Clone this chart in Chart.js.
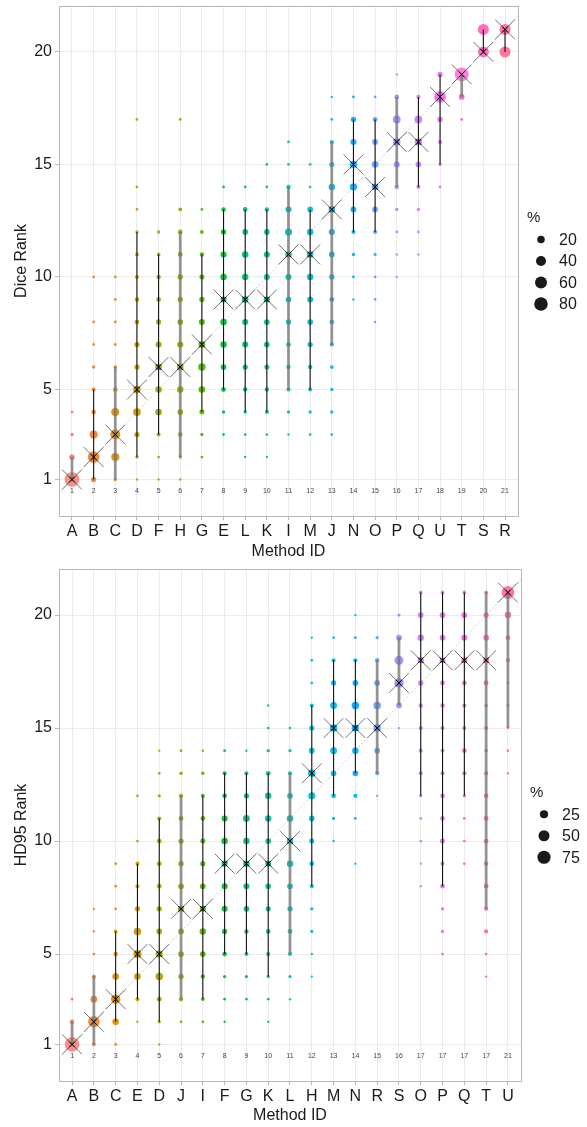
<!DOCTYPE html>
<html>
<head>
<meta charset="utf-8">
<script src="https://cdn.jsdelivr.net/npm/chart.js@4/dist/chart.umd.min.js"></script>
<style>
  html, body { margin: 0; padding: 0; background: #fff; }
  canvas { display: block; }
</style>
</head>
<body>
<canvas id="diceChart" width="587" height="563"></canvas>
<canvas id="hdChart" width="587" height="564"></canvas>
<script>
// ---- Dice panel ----
const diceMethods = ['A','B','C','D','F','H','G','E','L','K','I','M','J','N','O','P','Q','U','T','S','R'];
const diceRankLabels = [1,2,3,4,5,6,7,8,9,10,11,12,13,14,15,16,17,18,19,20,21];
const diceMedian = [1,2,3,5,6,6,7,9,9,9,11,11,13,15,14,16,16,18,19,20,21];
const diceLow  = [1,1,1,2,3,2,4,5,4,4,5,5,7,12,12,14,14,15,18,20,20];
const diceHigh = [2,5,6,12,11,12,11,13,13,13,14,13,16,17,17,18,18,19,19,21,21];
const diceGreyBar = [1,0,1,0,0,1,0,0,0,0,1,0,1,0,0,1,0,0,1,0,0];
// [rank, % of cases] per method
const diceDist = [
  [[1,95],[2,8],[3,2],[4,1]],
  [[1,8],[2,58],[3,25],[4,6],[5,4],[6,2],[7,1],[8,1],[10,1]],
  [[1,2],[2,25],[3,40],[4,24],[5,5],[6,2],[7,1],[8,1],[9,1],[10,1]],
  [[1,0.5],[2,2],[3,8],[4,22],[5,20],[6,8],[7,8],[8,6],[9,5],[10,4],[11,3],[12,2],[13,1],[14,1],[17,1]],
  [[1,0.5],[2,1],[3,4],[4,15],[5,15],[6,15],[7,12],[8,8],[9,6],[10,5],[11,3],[12,2]],
  [[1,0.5],[2,2],[3,5],[4,10],[5,14],[6,14],[7,12],[8,10],[9,8],[10,8],[11,6],[12,6],[13,3],[17,1]],
  [[2,1],[3,2],[4,7],[5,15],[6,20],[7,15],[8,12],[9,8],[10,7],[11,5],[12,3],[13,1]],
  [[3,1],[4,2],[5,6],[6,10],[7,14],[8,15],[9,12],[10,14],[11,12],[12,8],[13,5],[14,1]],
  [[2,0.5],[3,1],[4,2],[5,5],[6,8],[7,12],[8,12],[9,14],[10,14],[11,14],[12,10],[13,6],[14,1]],
  [[2,0.5],[3,1],[4,4],[5,5],[6,7],[7,10],[8,10],[9,12],[10,12],[11,12],[12,10],[13,5],[14,1],[15,1]],
  [[3,0.5],[4,2],[5,4],[6,5],[7,6],[8,8],[9,10],[10,12],[11,14],[12,18],[13,12],[14,5],[15,1],[16,1]],
  [[3,1],[4,2],[5,4],[6,5],[7,8],[8,10],[9,12],[10,14],[11,14],[12,14],[13,10],[14,1],[15,1]],
  [[3,1],[4,2],[5,2],[6,3],[7,4],[8,6],[9,6],[10,8],[11,10],[12,12],[13,14],[14,14],[15,7],[16,4],[17,1],[18,0.5]],
  [[9,0.5],[10,1],[11,2],[12,4],[13,10],[14,18],[15,18],[16,12],[17,8],[18,1]],
  [[8,0.5],[9,1],[10,1],[11,2],[12,4],[13,10],[14,15],[15,15],[16,10],[17,6],[18,1]],
  [[10,0.5],[11,0.5],[12,1],[13,2],[14,5],[15,12],[16,20],[17,22],[18,6],[19,0.5]],
  [[11,0.5],[12,1],[13,2],[14,4],[15,10],[16,18],[17,22],[18,4]],
  [[14,1],[15,2],[16,4],[17,8],[18,58],[19,8]],
  [[17,1],[18,10],[19,85]],
  [[20,50],[21,50]],
  [[20,50],[21,50]]
];
const diceLegend = [20, 40, 60, 80];

// ---- HD95 panel ----
const hdMethods = ['A','B','C','E','D','J','I','F','G','K','L','H','M','N','R','S','O','P','Q','T','U'];
const hdRankLabels = [1,2,3,4,5,6,7,8,9,10,11,12,13,14,15,16,17,17,17,17,21];
const hdMedian = [1,2,3,5,5,7,7,9,9,9,10,13,15,15,15,17,18,18,18,18,21];
const hdLow  = [1,1,2,3,2,3,3,5,5,4,5,8,12,13,13,16,12,8,12,7,15];
const hdHigh = [2,4,6,9,11,12,12,13,13,13,13,16,18,18,18,19,21,21,21,21,21];
const hdGreyBar = [1,1,0,0,0,1,0,0,0,0,1,0,0,0,1,1,0,0,0,1,1];
const hdDist = [
  [[1,95],[2,5],[3,1]],
  [[1,3],[2,55],[3,15],[4,4],[5,1],[6,0.5],[7,0.5]],
  [[1,1],[2,15],[3,35],[4,15],[5,5],[6,3],[7,1],[8,1],[9,1]],
  [[2,0.5],[3,4],[4,15],[5,25],[6,20],[7,8],[8,4],[9,4],[10,1],[12,1]],
  [[1,0.5],[2,2],[3,6],[4,20],[5,18],[6,10],[7,8],[8,6],[9,6],[10,6],[11,4],[12,2],[13,1],[14,0.5]],
  [[2,1],[3,4],[4,8],[5,10],[6,10],[7,12],[8,10],[9,8],[10,8],[11,6],[12,4],[13,2],[14,1]],
  [[2,1],[3,3],[4,5],[5,10],[6,14],[7,12],[8,10],[9,8],[10,7],[11,6],[12,4],[13,2],[14,0.5]],
  [[2,0.5],[3,1],[4,2],[5,6],[6,8],[7,12],[8,12],[9,12],[10,14],[11,12],[12,6],[13,4],[14,1]],
  [[3,1],[4,2],[5,4],[6,5],[7,10],[8,12],[9,14],[10,14],[11,16],[12,8],[13,4],[14,0.5]],
  [[2,0.5],[3,1],[4,2],[5,4],[6,6],[7,8],[8,10],[9,10],[10,10],[11,14],[12,14],[13,6],[14,2],[15,1],[16,0.5]],
  [[3,0.5],[4,2],[5,4],[6,6],[7,8],[8,10],[9,14],[10,14],[11,14],[12,10],[13,4],[14,2],[15,1]],
  [[4,0.5],[5,0.5],[6,2],[7,2],[8,4],[9,6],[10,7],[11,10],[12,18],[13,20],[14,10],[15,8],[16,4],[17,1],[18,1],[19,0.5]],
  [[10,0.5],[11,2],[12,6],[13,10],[14,16],[15,20],[16,16],[17,8],[18,4],[19,1]],
  [[9,0.5],[11,1],[12,4],[13,10],[14,14],[15,18],[16,20],[17,10],[18,4],[19,1],[20,0.5]],
  [[12,0.5],[13,4],[14,10],[15,20],[16,20],[17,10],[18,5],[19,2]],
  [[15,0.5],[16,10],[17,35],[18,30],[19,10],[20,2]],
  [[8,0.5],[9,0.5],[10,1],[11,1],[12,2],[13,4],[14,4],[15,4],[16,5],[17,8],[18,12],[19,14],[20,10],[21,3]],
  [[5,1],[6,2],[7,2],[8,6],[9,4],[10,7],[11,6],[12,6],[13,4],[14,3],[15,4],[16,5],[17,6],[18,10],[19,10],[20,10],[21,3]],
  [[9,1],[10,1],[11,1],[12,2],[13,4],[14,6],[15,4],[16,4],[17,6],[18,12],[19,12],[20,10],[21,3]],
  [[4,0.5],[5,1],[6,4],[7,4],[8,6],[9,5],[10,6],[11,6],[12,6],[13,4],[14,2],[15,4],[16,2],[17,6],[18,10],[19,10],[20,8],[21,3]],
  [[13,0.5],[14,1],[15,0.5],[16,1],[17,1],[18,4],[19,6],[20,14],[21,70]]
];
const hdLegend = [25, 50, 75];

const X_MIN = 0.4, X_MAX = 21.6, Y_MIN = -0.62, Y_MAX = 22.04;
const Y_TICKS = [1, 5, 10, 15, 20];
const FONT = "'Liberation Sans', Arial, sans-serif";
const TEXT = '#1a1a1a';

// ggplot-like hue palette (hcl, c=100, l=65)
function hcl(h, c, l, a) {
  const hr = h * Math.PI / 180;
  const U = c * Math.cos(hr), V = c * Math.sin(hr);
  const Xn = 95.047, Yn = 100, Zn = 108.883;
  const den = Xn + 15 * Yn + 3 * Zn;
  const un = 4 * Xn / den, vn = 9 * Yn / den;
  const Y = Yn * Math.pow((l + 16) / 116, 3);
  const up = U / (13 * l) + un, vp = V / (13 * l) + vn;
  const X = Y * 9 * up / (4 * vp);
  const Z = Y * (12 - 3 * up - 20 * vp) / (4 * vp);
  const x = X / 100, y = Y / 100, z = Z / 100;
  const r = 3.2404542 * x - 1.5371385 * y - 0.4985314 * z;
  const g = -0.9692660 * x + 1.8760108 * y + 0.0415560 * z;
  const b = 0.0556434 * x - 0.2040259 * y + 1.0572252 * z;
  const gam = v => {
    v = v <= 0.0031308 ? 12.92 * v : 1.055 * Math.pow(v, 1 / 2.4) - 0.055;
    return Math.round(255 * Math.min(1, Math.max(0, v)));
  };
  return `rgba(${gam(r)},${gam(g)},${gam(b)},${a})`;
}
const hueFor = (pos, n, a) => hcl(15 + 360 * (pos - 1) / n, 100, 65, a);
const sizeFor = p => 0.7 + 0.68 * Math.sqrt(p);

const rankLabelPlugin = {
  id: 'rankLabels',
  beforeDatasetsDraw(chart, args, opts) {
    const { ctx, scales: { x, y } } = chart;
    ctx.save();
    ctx.font = `7px ${FONT}`;
    ctx.fillStyle = '#444';
    ctx.textAlign = 'center';
    ctx.textBaseline = 'middle';
    opts.labels.forEach((lab, i) => {
      ctx.fillText(String(lab), x.getPixelForValue(i + 1), y.getPixelForValue(0.5));
    });
    ctx.restore();
  }
};

const framePlugin = {
  id: 'frame',
  afterDraw(chart) {
    const { ctx, chartArea: a } = chart;
    ctx.save();
    ctx.strokeStyle = '#b8b8b8';
    ctx.lineWidth = 1;
    ctx.strokeRect(Math.round(a.left) + 0.5, Math.round(a.top) + 0.5,
      Math.round(a.right - a.left), Math.round(a.bottom - a.top));
    ctx.restore();
  }
};

const sizeLegendPlugin = {
  id: 'sizeLegend',
  afterDraw(chart, args, opts) {
    const { ctx, chartArea: a } = chart;
    const step = 21.5;
    const cy = (a.top + a.bottom) / 2;
    const top = cy - opts.values.length * step / 2;
    ctx.save();
    ctx.fillStyle = TEXT;
    ctx.textBaseline = 'middle';
    ctx.font = `15px ${FONT}`;
    ctx.fillText('%', a.right + 9, top);
    ctx.font = `16px ${FONT}`;
    opts.values.forEach((v, i) => {
      const yy = top + step * (i + 1);
      ctx.beginPath();
      ctx.arc(a.right + 23, yy, sizeFor(v), 0, Math.PI * 2);
      ctx.fill();
      ctx.fillText(String(v), a.right + 41, yy + 1);
    });
    ctx.restore();
  }
};

function barData(low, high, flags, want) {
  const out = [];
  low.forEach((lo, i) => {
    if (flags[i] !== want) return;
    out.push({ x: i + 1, y: lo }, { x: i + 1, y: high[i] }, { x: i + 1, y: null });
  });
  return out;
}

function buildChart(id, p) {
  const n = p.methods.length;
  const dots = [];
  p.dist.forEach((col, i) => col.forEach(([rank, pct]) => dots.push({ x: i + 1, y: rank, p: pct })));
  const medians = p.median.map((m, i) => ({ x: i + 1, y: m }));

  return new Chart(document.getElementById(id), {
    type: 'scatter',
    data: {
      datasets: [
        {
          type: 'line',
          data: [{ x: X_MIN, y: X_MIN }, { x: X_MAX, y: X_MAX }],
          borderColor: '#cfcfcf',
          borderWidth: 1,
          borderDash: [2, 2],
          pointRadius: 0,
          order: 6
        },
        {
          data: dots,
          pointRadius: ctx => sizeFor(ctx.raw.p),
          backgroundColor: ctx => hueFor(ctx.raw.x, n, ctx.raw.p > 80 ? 0.8 : 0.93),
          borderWidth: 0,
          order: 5
        },
        {
          type: 'line',
          data: barData(p.low, p.high, p.grey, 1),
          borderColor: 'rgba(115,115,115,0.75)',
          borderWidth: 2.8,
          pointRadius: 0,
          spanGaps: false,
          order: 4
        },
        {
          type: 'line',
          data: barData(p.low, p.high, p.grey, 0),
          borderColor: '#111',
          borderWidth: 1.1,
          pointRadius: 0,
          spanGaps: false,
          order: 3
        },
        {
          data: medians,
          pointStyle: 'crossRot',
          pointRadius: 14,
          borderColor: 'rgba(70,70,70,0.75)',
          borderWidth: 1,
          order: 2
        },
        {
          data: medians,
          pointStyle: 'crossRot',
          pointRadius: 4,
          borderColor: '#000',
          borderWidth: 1,
          order: 1
        }
      ]
    },
    options: {
      responsive: false,
      animation: false,
      events: [],
      layout: { autoPadding: false, padding: { left: 0, top: 6, right: p.padRight, bottom: 0 } },
      plugins: {
        legend: { display: false },
        tooltip: { enabled: false },
        rankLabels: { labels: p.rankLabels },
        sizeLegend: { values: p.legend }
      },
      scales: {
        x: {
          type: 'linear',
          min: X_MIN,
          max: X_MAX,
          afterBuildTicks: s => { s.ticks = p.methods.map((m, i) => ({ value: i + 1 })); },
          afterFit: s => { s.height = p.xAxisH; s.paddingLeft = 0; s.paddingRight = 0; },
          ticks: {
            autoSkip: false,
            maxRotation: 0,
            padding: 2,
            color: TEXT,
            font: { size: 16, family: FONT },
            callback: v => p.methods[v - 1]
          },
          grid: { color: '#ebebeb', lineWidth: 1, tickColor: '#b8b8b8', tickLength: 4 },
          border: { display: false },
          title: {
            display: true,
            text: 'Method ID',
            color: TEXT,
            font: { size: 16, family: FONT },
            padding: { top: 0, bottom: 2 }
          }
        },
        y: {
          type: 'linear',
          min: Y_MIN,
          max: Y_MAX,
          afterBuildTicks: s => { s.ticks = Y_TICKS.map(v => ({ value: v })); },
          afterFit: s => { s.width = 59; s.paddingTop = 0; s.paddingBottom = 0; },
          ticks: {
            padding: 3,
            color: TEXT,
            font: { size: 16, family: FONT },
            callback: v => String(v)
          },
          grid: { color: '#ebebeb', lineWidth: 1, tickColor: '#b8b8b8', tickLength: 4 },
          border: { display: false },
          title: {
            display: true,
            text: p.yTitle,
            color: TEXT,
            font: { size: 16, family: FONT },
            padding: { top: 12, bottom: 0 }
          }
        }
      }
    },
    plugins: [rankLabelPlugin, framePlugin, sizeLegendPlugin]
  });
}

buildChart('diceChart', {
  methods: diceMethods, dist: diceDist, median: diceMedian, low: diceLow, high: diceHigh,
  grey: diceGreyBar, rankLabels: diceRankLabels, legend: diceLegend,
  yTitle: 'Dice Rank', padRight: 69, xAxisH: 47
});
buildChart('hdChart', {
  methods: hdMethods, dist: hdDist, median: hdMedian, low: hdLow, high: hdHigh,
  grey: hdGreyBar, rankLabels: hdRankLabels, legend: hdLegend,
  yTitle: 'HD95 Rank', padRight: 66, xAxisH: 46
});
</script>
</body>
</html>
